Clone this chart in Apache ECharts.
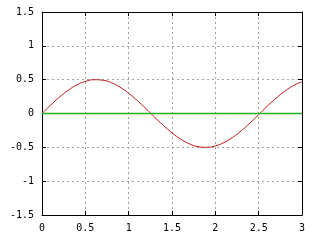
<!DOCTYPE html>
<html><head><meta charset="utf-8">
<script src="https://cdn.jsdelivr.net/npm/echarts@6/dist/echarts.min.js"></script>
<style>html,body{margin:0;padding:0;background:#fff}#c{width:320px;height:240px}</style>
</head><body><div id="c"></div>
<script>
var xs = [0,0.1,0.2,0.3,0.4,0.5,0.6,0.7,0.8,0.9,1.0,1.1,1.2,1.3,1.4,1.5,1.6,1.7,1.8,1.9,2.0,2.1,2.2,2.3,2.4,2.5,2.6,2.7,2.8,2.9,3.0];
var redY = [0,0.124,0.240,0.341,0.421,0.474,0.499,0.492,0.455,0.389,0.299,0.191,0.071,-0.054,-0.175,-0.286,-0.378,-0.448,-0.489,-0.500,-0.479,-0.429,-0.353,-0.254,-0.140,-0.017,0.108,0.225,0.328,0.412,0.469];
var greenX = [0,3];
var greenY = [0,0];
var xTicks = [0,0.5,1,1.5,2,2.5,3];
var yTicks = [-1.5,-1,-0.5,0,0.5,1,1.5];

var font = {fontFamily:'DejaVu Sans Mono', fontSize:10, color:'#000'};
function axisCommon(show){
  return {
    axisLine:{show:true, onZero:false, lineStyle:{color:'#000', width:1}},
    axisTick:{show:true, inside:true, length:4, lineStyle:{color:'#000'}},
    axisLabel: Object.assign({show:show, margin:8}, font),
    splitLine:{show:false}
  };
}
var chart = echarts.init(document.getElementById('c'), null, {renderer:'canvas'});
var xa0 = Object.assign(axisCommon(true), {type:'value', position:'bottom', min:0, max:3, interval:0.5,
  splitLine:{show:true, lineStyle:{color:'#a0a0a0', type:[2,3], width:1}}});
var xa1 = Object.assign(axisCommon(false), {type:'value', position:'top', min:0, max:3, interval:0.5});
var ya0 = Object.assign(axisCommon(true), {type:'value', position:'left', min:-1.5, max:1.5, interval:0.5,
  splitLine:{show:true, lineStyle:{color:'#a0a0a0', type:[2,3], width:1}}});
var ya1 = Object.assign(axisCommon(false), {type:'value', position:'right', min:-1.5, max:1.5, interval:0.5});
chart.setOption({
  animation:false,
  backgroundColor:'#fff',
  grid:{left:42, right:18, top:12, bottom:25, containLabel:false},
  xAxis:[xa0, xa1],
  yAxis:[ya0, ya1],
  series:[
    {type:'line', name:'red', xAxisIndex:0, yAxisIndex:0, data:xs.map(function(x,i){return [x, redY[i]];}),
     smooth:true, showSymbol:false, itemStyle:{color:'#c01818'}, lineStyle:{color:'#c01818', width:1}, z:3},
    {type:'line', name:'green', xAxisIndex:0, yAxisIndex:0, data:greenX.map(function(x,i){return [x, greenY[i]];}),
     showSymbol:false, itemStyle:{color:'#20b020'}, lineStyle:{color:'#20b020', width:1.3}, z:10}
  ]
});
</script></body></html>
